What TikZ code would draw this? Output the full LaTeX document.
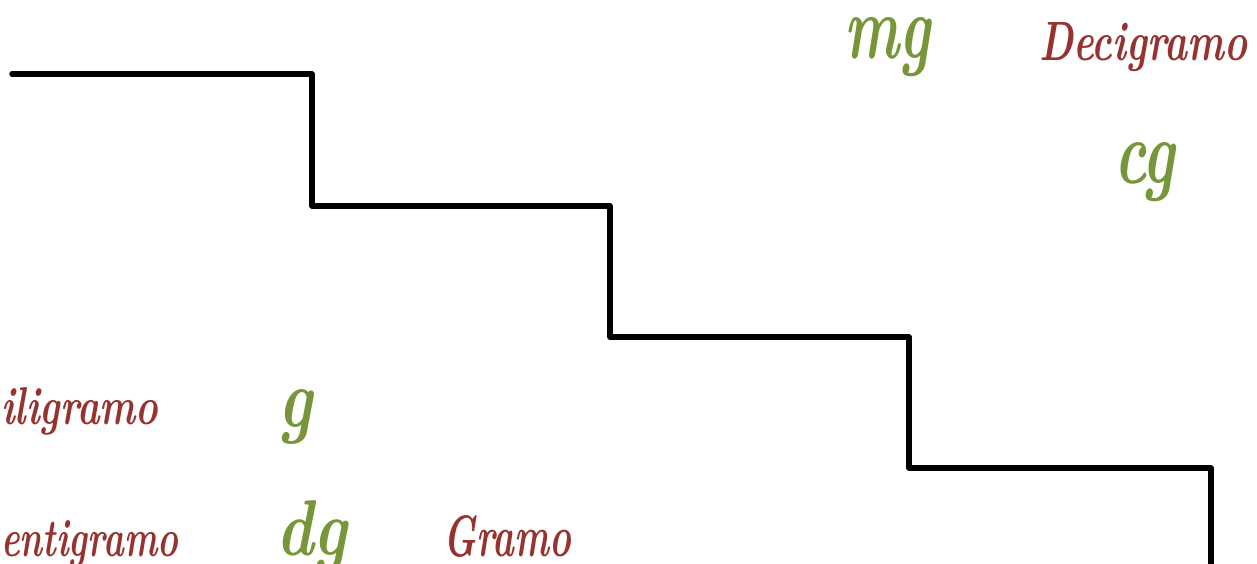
\documentclass[tikz,border=0pt]{standalone}
\usepackage{graphicx}
\definecolor{lgreen}{HTML}{77963A}
\definecolor{lred}{HTML}{963330}
\newcommand{\fitlab}[3]{\resizebox{#1pt}{#2pt}{#3}}
\tikzset{
  stair/.style={line width=5.5pt, line cap=round, line join=round, black},
  unitlab/.style={anchor=base west, inner sep=0pt, text=lgreen, font=\bfseries\itshape},
  namelab/.style={anchor=base west, inner sep=0pt, text=lred, font=\bfseries\itshape},
}
\begin{document}
\begin{tikzpicture}[x=1pt, y=-1pt]
\useasboundingbox (0,0) rectangle (1257,563);
\clip (0,0) rectangle (1257,563);
\coordinate (s0) at (12,74);
\coordinate (s1) at (312,74);
\coordinate (s2) at (312,206);
\coordinate (s3) at (610,206);
\coordinate (s4) at (610,337);
\coordinate (s5) at (909,337);
\coordinate (s6) at (909,468);
\coordinate (s7) at (1211,468);
\coordinate (s8) at (1211,570);
\draw[stair] (s0) -- (s1) -- (s2) -- (s3) -- (s4) -- (s5) -- (s6) -- (s7) -- (s8);
\node[unitlab] (mg) at (844,58) {\fitlab{86}{41}{mg}};
\node[namelab] (deci) at (1039,60) {\fitlab{208}{38}{Decigramo}};
\node[unitlab] (cg) at (1114,183) {\fitlab{61}{41}{cg}};
\node[namelab] (mili) at (1,424) {\fitlab{157}{37}{iligramo}};
\node[unitlab] (g) at (278,427) {\fitlab{34}{38}{g}};
\node[namelab] (centi) at (1,556) {\fitlab{177}{36}{entigramo}};
\node[unitlab] (dg) at (276,555) {\fitlab{71}{55}{dg}};
\node[namelab] (gramo) at (443,556) {\fitlab{128}{41}{Gramo}};
\end{tikzpicture}
\end{document}
